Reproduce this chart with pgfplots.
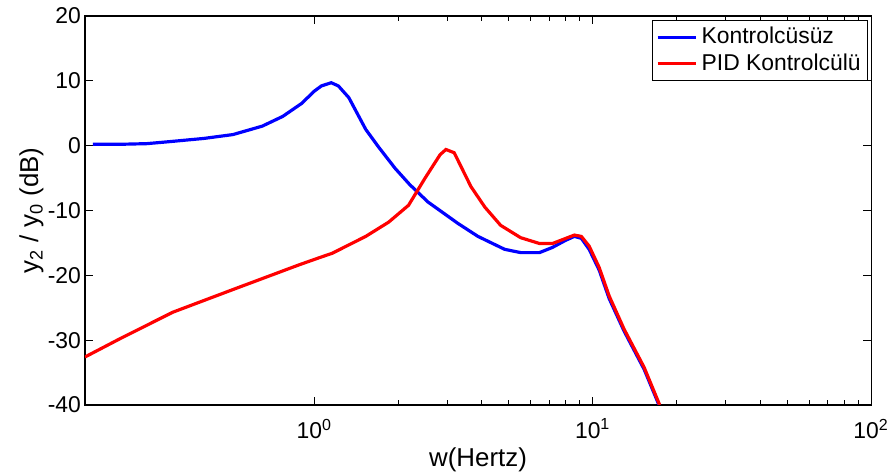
\documentclass[border=0pt]{standalone}
\usepackage{fontspec}
\setmainfont{Liberation Sans}
\usepackage{pgfplots}
\pgfplotsset{compat=1.18}

\begin{document}
\begin{tikzpicture}
\begin{axis}[
  name=ax,
  scale only axis,
  width=395pt, height=195.5pt,
  xmode=log,
  xmin=0.15, xmax=100,
  ymin=-40, ymax=20,
  ytick={-40,-30,...,20},
  xtick={1,10,100},
  xticklabels={10\textsuperscript{0},10\textsuperscript{1},10\textsuperscript{2}},
  tick align=inside,
  major tick length=4pt,
  minor tick length=2.5pt,
  tick style={black, line width=0.5pt},
  axis line style={line width=0.6pt},
  /pgf/number format/assume math mode=true,
  ticklabel style={font=\fontsize{11.5}{13}\selectfont},
  xticklabel style={yshift=-3.5pt},
  yticklabel style={xshift=1.5pt},
  label style={font=\fontsize{13}{15}\selectfont},
  xlabel={w(Hertz)},
  ylabel={y\textsubscript{2} / y\textsubscript{0} (dB)},
  xlabel style={at={(axis description cs:0.5,-0.142)}, anchor=center},
  ylabel style={at={(axis description cs:-0.068,0.5)}, anchor=center},
  legend style={at={(1,1)}, xshift=-1.5pt, yshift=-2pt, anchor=north east,
    font=\fontsize{11.5}{13}\selectfont,
    draw=black, line width=0.5pt, inner sep=1.5pt, row sep=-0.5pt},
  legend image code/.code={\draw[#1] (0cm,0cm) -- (0.68cm,0cm);},
  legend cell align=left,
  clip=true,
]
\addplot[blue, line width=1.6pt] coordinates {
  (0.16,0.2) (0.2,0.2) (0.25,0.3) (0.3,0.6) (0.4,1.1) (0.51,1.7) (0.65,3.0)
  (0.77,4.5) (0.9,6.5) (1.0,8.4) (1.06,9.2) (1.15,9.7) (1.22,9.2) (1.33,7.4)
  (1.53,2.5) (1.7,-0.2) (1.95,-3.5) (2.2,-6) (2.56,-8.7) (3.28,-12) (3.87,-14)
  (4.83,-16) (5.51,-16.5) (6.44,-16.5) (7.17,-15.7) (8.0,-14.6) (8.59,-14)
  (9.1,-14.3) (9.71,-16) (10.55,-19.2) (11.46,-23.6) (12.96,-28.6) (15.3,-34.5)
  (17.3,-40)
};
\addlegendentry{Kontrolcüsüz}
\addplot[red, line width=1.6pt] coordinates {
  (0.15,-32.6) (0.2,-29.8) (0.31,-25.7) (0.51,-22.2) (0.88,-18.4) (1.04,-17.3)
  (1.16,-16.6) (1.53,-14) (1.85,-11.8) (2.18,-9.2) (2.5,-5) (2.83,-1.4)
  (2.97,-0.6) (3.18,-1.1) (3.65,-6.3) (4.1,-9.5) (4.67,-12.3) (5.51,-14.2)
  (6.44,-15.1) (7.17,-15.1) (8.59,-13.8) (9.1,-14) (9.71,-15.5) (10.55,-18.8)
  (11.46,-23.2) (12.96,-28.3) (15.3,-34.2) (17.4,-40)
};
\addlegendentry{PID Kontrolcülü}
\end{axis}
\pgfresetboundingbox
\path ([xshift=-42.7pt,yshift=-34.7pt]ax.south west) rectangle ([xshift=9pt,yshift=8pt]ax.north east);
\end{tikzpicture}
\end{document}
